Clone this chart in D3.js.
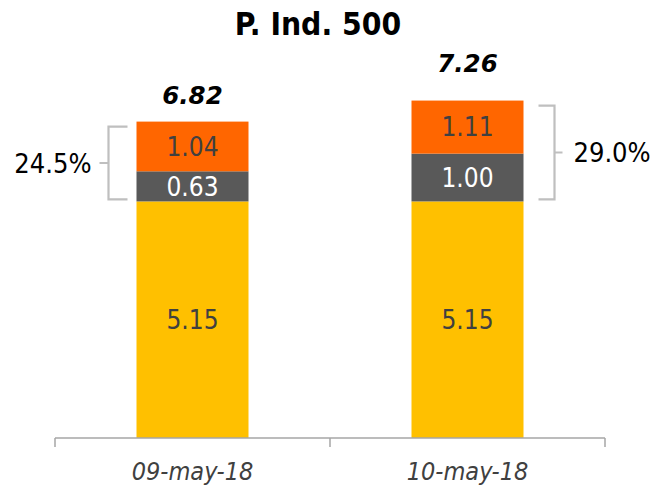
<!DOCTYPE html>
<html><head><meta charset="utf-8">
<script src="https://cdn.jsdelivr.net/npm/d3@7"></script>
<style>body{margin:0;background:#fff}svg{display:block}</style>
</head><body>
<script>
const categories = ["09-may-18", "10-may-18"];
const baseValues = [5.15, 5.15];
const midValues = [0.63, 1.00];
const topValues = [1.04, 1.11];
const totals = [6.82, 7.26];
const shareLabels = ["24.5%", "29.0%"];
const title = "P. Ind. 500";

const W = 654, H = 486;
const svg = d3.select("body").append("svg").attr("width", W).attr("height", H);
const FONT = "'DejaVu Sans Condensed','DejaVu Sans',sans-serif";

const x = d3.scaleBand().domain(categories).range([55, 605]).paddingInner(0).paddingOuter(0);
const barW = 112;
const y = d3.scaleLinear().domain([0.2, 8]).range([438, 65.2]);

svg.append("text").attr("x", 318).attr("y", 35).attr("text-anchor", "middle")
  .attr("font-family", FONT).attr("font-weight", "bold").attr("font-size", 31.5).attr("fill", "#000").text(title);

const colors = ["#FFC000", "#595959", "#FF6600"];
const txtColors = ["#404040", "#ffffff", "#404040"];
const series = [baseValues, midValues, topValues];

categories.forEach((c, i) => {
  const cx = x(c) + x.bandwidth() / 2;
  let cum = 0;
  series.forEach((s, k) => {
    const v = s[i];
    const y0 = k === 0 ? y.range()[0] : y(cum);
    const y1 = y(cum + v);
    svg.append("rect").attr("x", cx - barW / 2).attr("width", barW)
      .attr("y", y1).attr("height", y0 - y1).attr("fill", colors[k]);
    svg.append("text").attr("x", cx).attr("y", (y0 + y1) / 2).attr("dy", "0.36em")
      .attr("text-anchor", "middle").attr("font-family", FONT).attr("font-size", 26)
      .attr("fill", txtColors[k]).text(v.toFixed(2));
    cum += v;
  });
});

// total labels
const labelOffsets = [18, 29];
categories.forEach((c, i) => {
  const cx = x(c) + x.bandwidth() / 2;
  svg.append("text").attr("x", cx).attr("y", y(totals[i]) - labelOffsets[i])
    .attr("text-anchor", "middle").attr("font-family", "'DejaVu Sans',sans-serif")
    .attr("font-weight", "bold").attr("font-style", "italic").attr("font-size", 24.5)
    .attr("fill", "#000").text(totals[i].toFixed(2));
});

// brackets
const bc = "#BFBFBF";
categories.forEach((c, i) => {
  const cx = x(c) + x.bandwidth() / 2;
  const top = y(totals[i]) + 5;
  const bot = y(baseValues[i]) - 2;
  const mid = (top + bot) / 2;
  const left = i === 0;
  const vx = left ? cx - barW / 2 - 28 : cx + barW / 2 + 31;
  const ex = left ? vx + 19 : vx - 16;
  const tx = left ? vx - 9 : vx + 8;
  const path = `M${ex},${top}H${vx}V${bot}H${ex}M${vx},${mid}H${tx}`;
  svg.append("path").attr("d", path).attr("fill", "none").attr("stroke", bc).attr("stroke-width", 2.2);
  svg.append("text").attr("x", left ? tx - 8 : tx + 11).attr("y", mid).attr("dy", "0.36em")
    .attr("text-anchor", left ? "end" : "start").attr("font-family", FONT).attr("font-size", 27)
    .attr("fill", "#000").text(shareLabels[i]);
});

// axis
const axisG = svg.append("g").attr("transform", "translate(0,438)");
axisG.append("path").attr("d", "M55,0H605").attr("stroke", "#A6A6A6").attr("stroke-width", 1.5).attr("fill", "none");
const tickXs = [x.range()[0]].concat(categories.map(c => x(c) + x.bandwidth()));
axisG.selectAll("line.tk").data(tickXs).join("line").attr("class", "tk")
  .attr("x1", d => d).attr("x2", d => d).attr("y1", 0).attr("y2", 9)
  .attr("stroke", "#A6A6A6").attr("stroke-width", 1.5);
axisG.selectAll("text.cat").data(categories).join("text").attr("class", "cat")
  .attr("x", d => x(d) + x.bandwidth() / 2).attr("y", 33).attr("dy", "0.36em")
  .attr("text-anchor", "middle").attr("font-family", FONT).attr("font-style", "italic")
  .attr("font-size", 25).attr("fill", "#404040").text(d => d);
</script>
</body></html>
